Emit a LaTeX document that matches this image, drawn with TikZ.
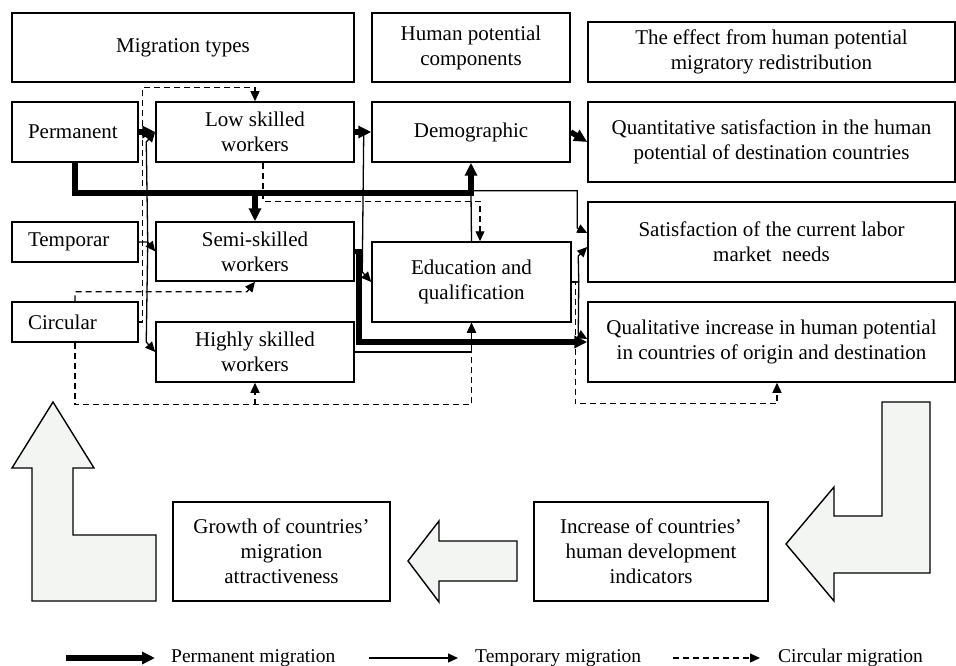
\documentclass[tikz,border=0pt]{standalone}
\usepackage{fontspec}
\setmainfont{Liberation Serif}
\usetikzlibrary{arrows.meta}
\definecolor{blockfill}{RGB}{243,245,243}
\begin{document}
\begin{tikzpicture}[x=1pt,y=-1pt,
        box/.style={draw=black,line width=1.5pt,align=center,inner sep=0pt,font=\fontsize{21}{25}\selectfont},
        typebox/.style={box,align=left,text width=94pt,inner xsep=16pt,minimum width=126pt},
        permflow/.style={line width=5.5pt,-{Triangle[length=13pt,width=12pt]}},
        tempflow/.style={line width=1.3pt,-{Triangle[length=10pt,width=9pt]}},
        circflow/.style={line width=1.3pt,dash pattern=on 6pt off 4pt,-{Triangle[length=10pt,width=9pt]}},
        block/.style={draw=black,line width=1.4pt,fill=blockfill},
        legtext/.style={inner sep=0pt,anchor=west,font=\fontsize{19.5}{22}\selectfont}]
        \useasboundingbox (0,0) rectangle (956,666);
        \node[box,minimum width=342,minimum height=69] (mtypes) at (183,47.5) {Migration types};
        \node[box,minimum width=198,minimum height=69] (hpc) at (471,47.5) {Human potential\\components};
        \node[box,minimum width=367,minimum height=60] (effect) at (771.5,52) {The effect from human potential\\migratory redistribution};
        \node[typebox,minimum height=60] (perm) at (75,132) {Permanent};
        \node[box,minimum width=198,minimum height=60] (low) at (255,132) {Low skilled\\workers};
        \node[box,minimum width=198,minimum height=60] (demo) at (471,132) {Demographic};
        \node[box,minimum width=367,minimum height=80] (quant) at (771.5,142) {Quantitative satisfaction in the human\\potential of destination countries};
        \node[typebox,minimum height=40] (temp) at (75,242) {Temporar};
        \node[box,minimum width=198,minimum height=59] (semi) at (255,251.5) {Semi-skilled\\workers};
        \node[box,minimum width=199,minimum height=80] (edu) at (471.5,282) {Education and\\qualification};
        \node[box,minimum width=367,minimum height=80] (sat) at (771.5,242) {Satisfaction of the current labor\\market\ \ needs};
        \node[typebox,minimum height=40] (circ) at (75,322) {Circular};
        \node[box,minimum width=198,minimum height=60] (high) at (255,352) {Highly skilled\\workers};
        \node[box,minimum width=367,minimum height=80] (qual) at (771.5,342) {Qualitative increase in human potential\\in countries of origin and destination};
        \node[box,minimum width=217,minimum height=99] (growth) at (281.5,551.5) {Growth of countries'\\migration\\attractiveness};
        \node[box,minimum width=234,minimum height=99] (incr) at (651,551.5) {Increase of countries'\\human development\\indicators};
        \filldraw[block] (53,402) -- (94,468) -- (73,468) -- (73,535) -- (156,535) -- (156,601) -- (32,601) -- (32,468) -- (12,468) -- cycle;
        \filldraw[block] (408,561) -- (439,521) -- (439,541) -- (517,541) -- (517,581) -- (439,581) -- (439,602) -- cycle;
        \filldraw[block] (882,402) -- (930,402) -- (930,573) -- (834,573) -- (834,601) -- (786,544) -- (834,487) -- (834,516) -- (882,516) -- cycle;
        \draw[permflow] (perm.east) -- (low.west);
        \draw[permflow] (low.east) -- (demo.west);
        \draw[permflow] (demo.east) -- (quant.west);
        \draw[permflow] (perm.south) |- ([yshift=-30pt]demo.south) -- (demo.south);
        \draw[permflow] ([yshift=-30pt]low.south) -- (semi.north);
        \draw[permflow] (semi.east) -- ++(4,0) |- (qual.west);
        \draw[tempflow] (temp.east) -- ++(9,0) -- (semi.west);
        \draw[tempflow] ([xshift=9pt]temp.east) -- ([xshift=-9pt,yshift=-10pt]low.west) -- (low.west);
        \draw[tempflow] ([xshift=9pt]temp.east) -- ([xshift=-9pt,yshift=10pt]high.west) -- (high.west);
        \draw[tempflow] ([xshift=9pt]low.east) -- ([xshift=-9pt,yshift=10pt]edu.west) -- (edu.west);
        \draw[tempflow,-] (edu.north) -- ([yshift=-30pt]demo.south);
        \draw[tempflow] ([yshift=-28pt]demo.south) -| ([xshift=-10pt,yshift=14pt]sat.west) -- ([yshift=9pt]sat.west);
        \draw[tempflow] (edu.east) -- ++(7,0) -- ([xshift=-9pt,yshift=-14pt]sat.west) -- ([yshift=-5pt]sat.west);
        \draw[tempflow] (edu.east) -- ++(7,0) -- ([xshift=-9pt,yshift=8pt]qual.west) -- ([yshift=3pt]qual.west);
        \draw[tempflow] (high.east) -| (edu.south);
        \draw[circflow] (circ.east) -- ++(4,0) |- ([yshift=14pt]low.north) -- (low.north);
        \draw[circflow] (circ.north) |- ([xshift=-8pt,yshift=-10pt]semi.south) -- (semi.south);
        \draw[circflow] (circ.south) |- ([yshift=-22pt]high.south) -| (edu.south);
        \draw[circflow] ([yshift=-22pt]high.south) -- (high.south);
        \draw[circflow] ([xshift=8pt]low.south) |- ([xshift=8.5pt,yshift=40pt]edu.north) -- ([xshift=8.5pt]edu.north);
        \draw[circflow] (edu.east) -- ++(3.5,0) |- ([xshift=5.5pt,yshift=-21pt]qual.south) -- ([xshift=5.5pt]qual.south);
        \node[legtext] (lperm) at (171,658) {Permanent migration};
        \node[legtext] (ltemp) at (475,658) {Temporary migration};
        \node[legtext] (lcirc) at (778,658) {Circular migration};
        \draw[permflow] ([xshift=-105pt]lperm.west) -- ([xshift=-16pt]lperm.west);
        \draw[tempflow] ([xshift=-106pt]ltemp.west) -- ([xshift=-17pt]ltemp.west);
        \draw[circflow] ([xshift=-105pt]lcirc.west) -- ([xshift=-18pt]lcirc.west);
\end{tikzpicture}
\end{document}
